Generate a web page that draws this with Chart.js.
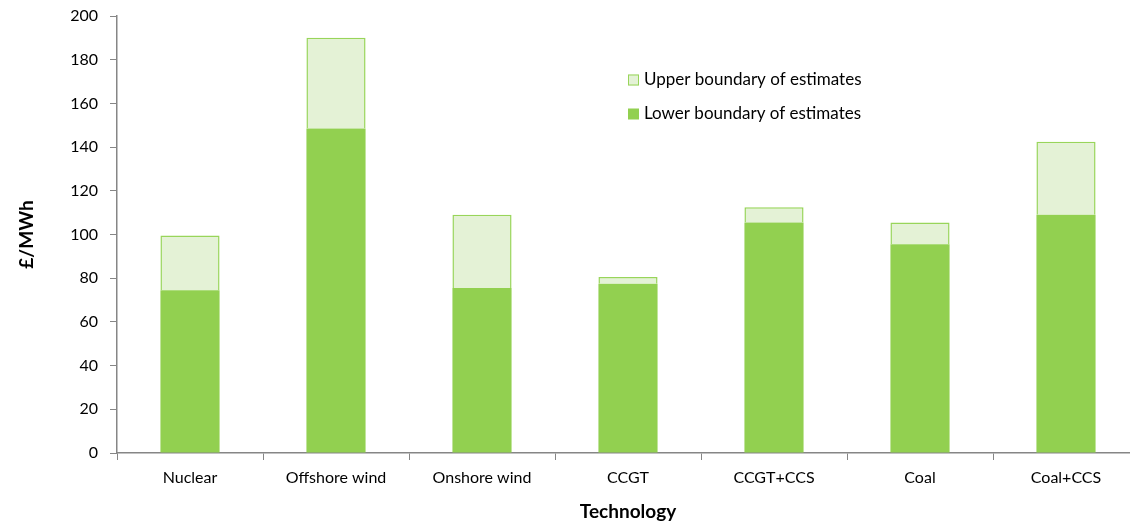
<!DOCTYPE html>
<html>
<head>
<meta charset="utf-8">
<title>Levelised cost by technology</title>
<script src="https://cdn.jsdelivr.net/npm/chart.js@4/dist/chart.umd.min.js"></script>
<style>
    html, body { margin: 0; padding: 0; background: #fff; overflow: hidden; }
    #wrap { position: relative; width: 1150px; height: 524px; }
</style>
</head>
<body>
<div id="wrap"><canvas id="costChart"></canvas></div>
<script>
const technologies = ['Nuclear', 'Offshore wind', 'Onshore wind', 'CCGT', 'CCGT+CCS', 'Coal', 'Coal+CCS'];
// £/MWh, low and high end of each estimate range
const lowerEstimate = [74.5, 148.5, 75.5, 77.5, 105.5, 95.5, 109];
const upperEstimate = [99.5, 190, 109, 80.5, 112.5, 105.5, 142.5];
const yTicks = [0, 20, 40, 60, 80, 100, 120, 140, 160, 180, 200];

const FONT = 'Lato, "Open Sans", sans-serif';
const GREEN = '#92D050';
const PALE = '#E4F2D6';
const PALE_EDGE = '#98D55A';
const AXIS = '#868686';

// legend drawn inside the plot, upper series first
const floatingLegend = {
    id: 'floatingLegend',
    afterDraw(chart) {
        const ctx = chart.ctx;
        const items = chart.data.datasets.slice().reverse();
        ctx.save();
        ctx.font = '17px ' + FONT;
        ctx.textBaseline = 'middle';
        items.forEach((ds, i) => {
            const x = 628, y = 80 + i * 34;
            ctx.fillStyle = ds.backgroundColor;
            ctx.fillRect(x, y - 5.5, 11, 11);
            if (ds.borderWidth) {
                ctx.strokeStyle = ds.borderColor;
                ctx.lineWidth = 1;
                ctx.strokeRect(x + 0.5, y - 5, 10, 10);
            }
            ctx.fillStyle = '#000';
            ctx.fillText(ds.label, x + 16, y);
        });
        ctx.restore();
    }
};

new Chart(document.getElementById('costChart'), {
    type: 'bar',
    data: {
        labels: technologies,
        datasets: [
            {
                label: 'Lower boundary of estimates',
                data: lowerEstimate,
                backgroundColor: GREEN,
                borderWidth: 0,
                categoryPercentage: 1,
                barPercentage: 0.405
            },
            {
                label: 'Upper boundary of estimates',
                data: upperEstimate.map((v, i) => v - lowerEstimate[i]),
                backgroundColor: PALE,
                borderColor: PALE_EDGE,
                borderWidth: 1.5,
                categoryPercentage: 1,
                barPercentage: 0.405
            }
        ]
    },
    options: {
        responsive: true,
        maintainAspectRatio: false,
        animation: false,
        layout: { padding: { top: 16, right: 11, left: 0, bottom: 0 } },
        plugins: {
            legend: { display: false },
            tooltip: { enabled: false }
        },
        scales: {
            x: {
                stacked: true,
                grid: {
                    offset: true,
                    drawOnChartArea: false,
                    tickLength: 7,
                    color: AXIS
                },
                border: { color: AXIS, width: 1.5 },
                ticks: {
                    color: '#000',
                    padding: 8,
                    maxRotation: 0,
                    font: { family: FONT, size: 16 }
                },
                title: {
                    display: true,
                    text: 'Technology',
                    color: '#000',
                    padding: { top: 6, bottom: 1 },
                    font: { family: FONT, size: 19, weight: 'bold' }
                },
                afterFit(scale) {
                    scale.height = 71;
                    scale.paddingLeft = 0;
                    scale.paddingRight = 0;
                }
            },
            y: {
                stacked: true,
                min: 0,
                max: 200,
                afterBuildTicks(scale) { scale.ticks = yTicks.map(v => ({ value: v })); },
                grid: {
                    drawOnChartArea: false,
                    tickLength: 7,
                    color: AXIS
                },
                border: { color: AXIS, width: 1.5 },
                ticks: {
                    color: '#000',
                    padding: 12,
                    font: { family: FONT, size: 16 }
                },
                title: {
                    display: true,
                    text: '£/MWh',
                    color: '#000',
                    padding: { top: 15, bottom: 0 },
                    font: { family: FONT, size: 19, weight: 'bold' }
                },
                afterFit(scale) {
                    scale.width = 117;
                    scale.paddingTop = 0;
                    scale.paddingBottom = 0;
                }
            }
        }
    },
    plugins: [floatingLegend]
});
</script>
</body>
</html>
